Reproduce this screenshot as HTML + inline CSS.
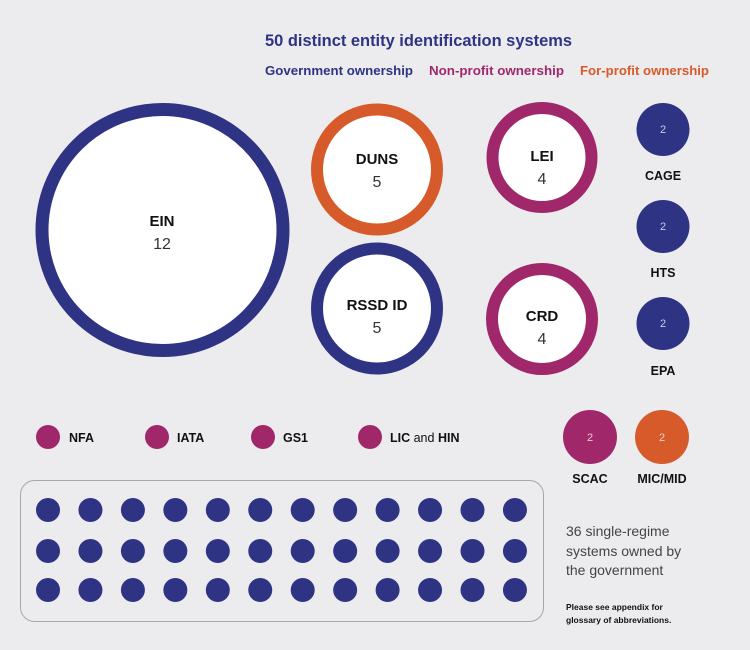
<!DOCTYPE html>
<html><head><meta charset="utf-8"><style>
html,body{margin:0;padding:0;background:#ececee;}
svg{display:block;font-family:"Liberation Sans",sans-serif;}
.b{font-weight:bold;fill:#111;}
</style></head><body>
<svg width="750" height="650" viewBox="0 0 750 650">
<rect width="750" height="650" fill="#ececee"/>
<text x="265" y="46" font-size="17" font-weight="bold" fill="#2e3483" textLength="307" lengthAdjust="spacingAndGlyphs">50 distinct entity identification systems</text>
<text x="265" y="75" font-size="13" font-weight="bold" fill="#2e3483" textLength="148" lengthAdjust="spacingAndGlyphs">Government ownership</text>
<text x="429" y="75" font-size="13" font-weight="bold" fill="#a0286a" textLength="135" lengthAdjust="spacingAndGlyphs">Non-profit ownership</text>
<text x="580" y="75" font-size="13" font-weight="bold" fill="#d65a2a" textLength="129" lengthAdjust="spacingAndGlyphs">For-profit ownership</text>

<circle cx="162.5" cy="230" r="120.5" fill="#fff" stroke="#2e3483" stroke-width="13"/>
<text x="162" y="226" font-size="15" text-anchor="middle" class="b">EIN</text>
<text x="162" y="249" font-size="16" text-anchor="middle" fill="#333">12</text>

<circle cx="377" cy="169.5" r="60" fill="#fff" stroke="#d65a2a" stroke-width="12"/>
<text x="377" y="164" font-size="15" text-anchor="middle" class="b">DUNS</text>
<text x="377" y="187" font-size="16" text-anchor="middle" fill="#333">5</text>

<circle cx="377" cy="308.5" r="60" fill="#fff" stroke="#2e3483" stroke-width="12"/>
<text x="377" y="310" font-size="15" text-anchor="middle" class="b">RSSD ID</text>
<text x="377" y="333" font-size="16" text-anchor="middle" fill="#333">5</text>

<circle cx="542" cy="157.5" r="49.5" fill="#fff" stroke="#a0286a" stroke-width="12"/>
<text x="542" y="161" font-size="15" text-anchor="middle" class="b">LEI</text>
<text x="542" y="184" font-size="16" text-anchor="middle" fill="#333">4</text>

<circle cx="542" cy="319" r="50" fill="#fff" stroke="#a0286a" stroke-width="12"/>
<text x="542" y="321" font-size="15" text-anchor="middle" class="b">CRD</text>
<text x="542" y="344" font-size="16" text-anchor="middle" fill="#333">4</text>

<g fill="#2e3483">
<circle cx="663" cy="129.5" r="26.5"/>
<circle cx="663" cy="226.5" r="26.5"/>
<circle cx="663" cy="323.5" r="26.5"/>
</g>
<g font-size="11" fill="#c8cbe8" text-anchor="middle">
<text x="663" y="133">2</text><text x="663" y="230">2</text><text x="663" y="327">2</text>
</g>
<g font-size="12.5" text-anchor="middle" class="b">
<text x="663" y="180">CAGE</text><text x="663" y="277">HTS</text><text x="663" y="375">EPA</text>
</g>

<circle cx="590" cy="437" r="27" fill="#a0286a"/>
<circle cx="662" cy="437" r="27" fill="#d65a2a"/>
<text x="590" y="441" font-size="11" fill="#e8c8d8" text-anchor="middle">2</text>
<text x="662" y="441" font-size="11" fill="#f4d0c0" text-anchor="middle">2</text>
<text x="590" y="483" font-size="12.5" text-anchor="middle" class="b">SCAC</text>
<text x="662" y="483" font-size="12.5" text-anchor="middle" class="b">MIC/MID</text>

<g fill="#a0286a">
<circle cx="48" cy="437" r="12"/><circle cx="157" cy="437" r="12"/>
<circle cx="263" cy="437" r="12"/><circle cx="370" cy="437" r="12"/>
</g>
<g font-size="12.5" class="b">
<text x="69" y="442">NFA</text><text x="177" y="442">IATA</text><text x="283" y="442">GS1</text>
<text x="390" y="442">LIC <tspan font-weight="normal">and</tspan> HIN</text>
</g>

<rect x="20.5" y="480.5" width="523" height="141" rx="14" fill="none" stroke="#a8a8ac" stroke-width="1"/>
<g fill="#2e3483" id="dots"></g>

<g font-size="14" fill="#444">
<text x="566" y="536">36 single-regime</text>
<text x="566" y="556">systems owned by</text>
<text x="566" y="575">the government</text>
</g>
<g font-size="8.5" class="b">
<text x="566" y="610">Please see appendix for</text>
<text x="566" y="623">glossary of abbreviations.</text>
</g>
</svg>
<script>
var g=document.getElementById('dots'),s='';
var ys=[510,551,590];
for(var r=0;r<3;r++)for(var c=0;c<12;c++){
s+='<circle cx="'+(48+c*42.45)+'" cy="'+ys[r]+'" r="12"/>';}
g.innerHTML=s;
</script>
</body></html>
